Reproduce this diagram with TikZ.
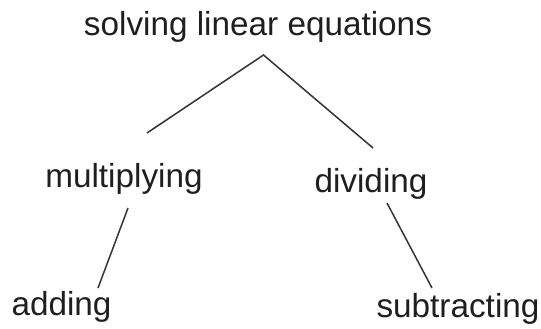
\documentclass[tikz,border=0pt]{standalone}
\usepackage{fontspec}
\setmainfont{Liberation Sans}
\begin{document}
\begin{tikzpicture}[x=1pt,y=-1pt,
  lbl/.style={inner sep=0pt,anchor=base,text=black!88,font=\fontsize{33.3}{36}\selectfont},
  link/.style={draw=black!80,line width=1.5pt}]
\useasboundingbox (0,0) rectangle (541,329);
\node[lbl] (root) at (258,36) {solving linear equations};
\node[lbl] (mul) at (124,187) {multiplying};
\node[lbl] (div) at (371,192) {dividing};
\node[lbl] (add) at (61.5,315) {adding};
\node[lbl] (sub) at (458,317) {subtracting};
\coordinate (apex) at (263.5,55);
\coordinate (mulTop) at (147,133);
\coordinate (divTop) at (373,148);
\coordinate (mulBot) at (128,208);
\coordinate (addTop) at (98,288);
\coordinate (divBot) at (387,203);
\coordinate (subTop) at (432,288);
\draw[link] (mulTop) -- (apex) -- (divTop);
\draw[link] (mulBot) -- (addTop);
\draw[link] (divBot) -- (subTop);
\end{tikzpicture}
\end{document}
